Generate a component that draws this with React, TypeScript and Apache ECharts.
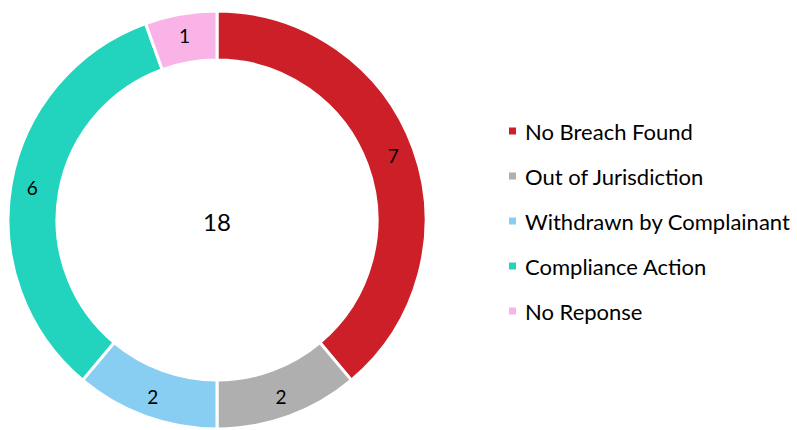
import React, { useEffect, useRef } from "react";
import * as echarts from "echarts";

const categories = ["No Breach Found", "Out of Jurisdiction", "Withdrawn by Complainant", "Compliance Action", "No Reponse"];
const values = [7, 2, 2, 6, 1];
const colors = ["#CC1F27", "#AFAFAF", "#87CEF2", "#22D3BE", "#F9B3E6"];
const total = values.reduce((a, b) => a + b, 0);

const FONT = "Lato, 'Open Sans', sans-serif";

export default function App() {
  const ref = useRef<HTMLDivElement>(null);
  useEffect(() => {
    const chart = echarts.init(ref.current!, undefined, { renderer: "svg" });
    chart.setOption({
      animation: false,
      color: colors,
      graphic: [
        {
          type: "text",
          x: 217,
          y: 221,
          style: {
            text: String(total),
            fontFamily: FONT,
            fontSize: 24,
            fill: "#000",
            align: "center",
            verticalAlign: "middle",
          },
        },
      ],
      legend: {
        orient: "vertical",
        left: 507,
        top: 120,
        padding: 0,
        itemWidth: 9,
        itemHeight: 9,
        itemGap: 23,
        icon: "rect",
        textStyle: { fontFamily: FONT, fontSize: 22, lineHeight: 22, color: "#000", padding: [0, 0, 0, 3] },
        data: categories,
      },
      series: [
        {
          type: "pie",
          center: [217, 220],
          radius: [160, 209],
          startAngle: 90,
          clockwise: true,
          avoidLabelOverlap: false,
          itemStyle: { borderColor: "#fff", borderWidth: 3 },
          label: {
            show: true,
            position: "inside",
            formatter: "{c}",
            fontFamily: FONT,
            fontSize: 19,
            color: "#000",
          },
          labelLine: { show: false },
          emphasis: { disabled: true },
          data: categories.map((name, i) => ({ name, value: values[i] })),
        },
      ],
    });
    return () => chart.dispose();
  }, []);
  return <div ref={ref} style={{ width: 797, height: 430, position: "absolute", left: 0, top: 0 }} />;
}
